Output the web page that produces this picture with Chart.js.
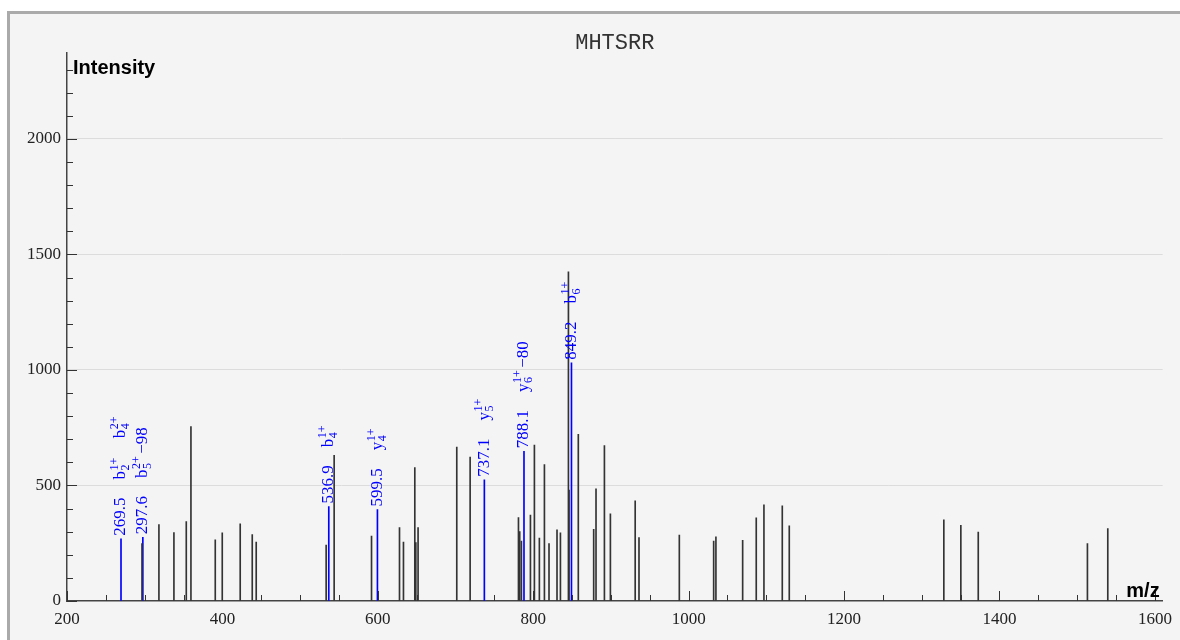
<!DOCTYPE html>
<html>
<head>
<meta charset="utf-8">
<title>MHTSRR</title>
<script src="https://cdn.jsdelivr.net/npm/chart.js@4.4.1/dist/chart.umd.min.js"></script>
<style>
  html, body { margin: 0; padding: 0; background: #fff; overflow: hidden; }
  #frame { position: absolute; left: 7px; top: 11px; width: 1200px; height: 700px; border: 3px solid #aaa; background: #f4f4f4; }
  #wrap { position: absolute; left: 0; top: 0; width: 1180px; height: 640px; }
</style>
</head>
<body>
<div id="frame"></div>
<div id="wrap"><canvas id="spectrum" width="1180" height="640"></canvas></div>
<script>
// unmatched peaks (m/z, intensity)
const peakMz = [296.5, 318.3, 337.6, 353.5, 359.5, 390.8, 399.8, 422.9, 438.4, 443.5,
  533.5, 543.8, 591.9, 627.9, 633.0, 647.6, 648.9, 651.8, 701.6, 718.8,
  781.0, 782.6, 784.8, 796.4, 801.5, 807.9, 814.4, 820.3, 830.6, 835.0,
  845.3, 846.1, 858.0, 877.8, 880.8, 891.6, 899.3, 931.2, 936.1, 988.0,
  1032.2, 1035.1, 1069.5, 1087.0, 1096.9, 1120.5, 1129.5, 1328.4, 1350.3, 1372.7,
  1513.2, 1539.4]
const peakInt = [249, 331, 296, 344, 755, 265, 295, 334, 288, 255,
  242, 630, 281, 318, 255, 577, 253, 318, 666, 623,
  361, 301, 259, 372, 675, 272, 590, 248, 308, 295,
  1425, 480, 721, 310, 486, 673, 377, 434, 274, 285,
  259, 278, 263, 360, 416, 412, 325, 351, 328, 298,
  248, 313]

// matched fragment peaks
const matchMz = [269.5, 297.6, 536.9, 599.5, 737.1, 788.1, 849.2]
const matchInt = [269, 276, 409, 396, 525, 648, 1031]
// ion names: [letter, index, charge, loss]
const matchIons = [
  [['b', '2', '1+'], ['b', '4', '2+']],
  [['b', '5', '2+', '\u221298']],
  [['b', '4', '1+']],
  [['y', '4', '1+']],
  [['y', '5', '1+']],
  [['y', '6', '1+', '\u221280']],
  [['b', '6', '1+']]
]

const xTicks = [200, 400, 600, 800, 1000, 1200, 1400, 1600]
const yTicks = [0, 500, 1000, 1500, 2000]

const peptide = 'MHTSRR'
const xMin = 200, xMax = 1610, xMinor = 50
const yMin = 0, yMax = 2372, yMinor = 100

const serif = '"Liberation Serif", "DejaVu Serif", serif'
const labelFont = '17px ' + serif
const smallFont = '12px ' + serif

function drawIon(ctx, ion, pos) {
    const [base, sub, sup, loss] = ion
    ctx.font = labelFont
    ctx.fillText(base, pos, 0)
    pos += ctx.measureText(base).width
    ctx.font = smallFont
    ctx.fillText(sup, pos + 0.5, -6)
    ctx.fillText(sub, pos + 0.5, 5)
    pos += Math.max(ctx.measureText(sup).width, ctx.measureText(sub).width) + 1
    if (loss) {
        ctx.font = labelFont
        pos += 2
        ctx.fillText(loss, pos, 0)
        pos += ctx.measureText(loss).width
    }
    return pos
}

const spectrumDecor = {
    id: 'spectrumDecor',
    afterDatasetsDraw(chart) {
        const { ctx, chartArea, scales: { x, y } } = chart
        ctx.save()

        // ticks pointing into the plot
        ctx.strokeStyle = '#333'
        ctx.lineWidth = 1
        for (let v = xMin; v <= xTicks[xTicks.length - 1]; v += xMinor) {
            const px = Math.round(x.getPixelForValue(v)) + 0.5
            const len = xTicks.includes(v) ? 10 : 6
            ctx.beginPath()
            ctx.moveTo(px, chartArea.bottom)
            ctx.lineTo(px, chartArea.bottom - len)
            ctx.stroke()
        }
        for (let v = yMin; v < yMax; v += yMinor) {
            const py = Math.round(y.getPixelForValue(v)) + 0.5
            const len = yTicks.includes(v) ? 10 : 6
            ctx.beginPath()
            ctx.moveTo(chartArea.left, py)
            ctx.lineTo(chartArea.left + len, py)
            ctx.stroke()
        }

        // peak annotations
        ctx.fillStyle = 'blue'
        ctx.textBaseline = 'middle'
        ctx.textAlign = 'left'
        matchMz.forEach((mz, i) => {
            const px = x.getPixelForValue(mz)
            const py = y.getPixelForValue(matchInt[i])
            ctx.save()
            ctx.translate(px, py - 3)
            ctx.rotate(-Math.PI / 2)
            ctx.font = labelFont
            const num = mz.toFixed(1)
            ctx.fillText(num, 0, 0)
            let pos = ctx.measureText(num).width + 18
            matchIons[i].forEach(ion => {
                pos = drawIon(ctx, ion, pos) + 19
            })
            ctx.restore()
        })

        // title and axis names
        ctx.fillStyle = '#333'
        ctx.textAlign = 'center'
        ctx.font = '22px "Liberation Mono", monospace'
        ctx.fillText(peptide, (chartArea.left + chartArea.right) / 2, 43)

        ctx.fillStyle = '#000'
        ctx.font = 'bold 20px "Liberation Sans", Arial, sans-serif'
        ctx.textAlign = 'left'
        ctx.fillText('Intensity', chartArea.left + 6, 68)
        ctx.textAlign = 'right'
        ctx.textBaseline = 'alphabetic'
        ctx.fillText('m/z', chartArea.right - 3, chartArea.bottom - 4)

        ctx.restore()
    }
}

new Chart(document.getElementById('spectrum'), {
    type: 'bar',
    data: {
        datasets: [
            {
                label: 'peaks',
                data: peakMz.map((m, i) => ({ x: m, y: peakInt[i] })),
                backgroundColor: '#333',
                barThickness: 1,
                grouped: false
            },
            {
                label: 'matched',
                data: matchMz.map((m, i) => ({ x: m, y: matchInt[i] })),
                backgroundColor: 'blue',
                barThickness: 1,
                grouped: false
            }
        ]
    },
    options: {
        responsive: false,
        animation: false,
        layout: { padding: { top: 53, right: 17, bottom: 0, left: 0 } },
        plugins: {
            legend: { display: false },
            tooltip: { enabled: false },
            title: { display: false }
        },
        scales: {
            x: {
                type: 'linear',
                offset: false,
                min: xMin,
                max: xMax,
                grid: { display: false, drawTicks: false, offset: false },
                border: { color: '#444', width: 1.5 },
                afterBuildTicks: s => { s.ticks = xTicks.map(v => ({ value: v })) },
                ticks: {
                    autoSkip: false,
                    maxRotation: 0,
                    padding: 8,
                    color: '#222',
                    font: { family: serif, size: 17 },
                    callback: v => String(v)
                },
                afterFit: s => { s.height = 39 }
            },
            y: {
                min: yMin,
                max: yMax,
                grid: {
                    color: c => (c.tick && c.tick.value > 0 ? '#dcdcdc' : 'transparent'),
                    drawTicks: false
                },
                border: { color: '#444', width: 1.5 },
                afterBuildTicks: s => { s.ticks = yTicks.map(v => ({ value: v })) },
                ticks: {
                    padding: 6,
                    color: '#222',
                    font: { family: serif, size: 17 },
                    callback: v => String(v)
                },
                afterFit: s => { s.width = 67 }
            }
        }
    },
    plugins: [spectrumDecor]
})
</script>
</body>
</html>
